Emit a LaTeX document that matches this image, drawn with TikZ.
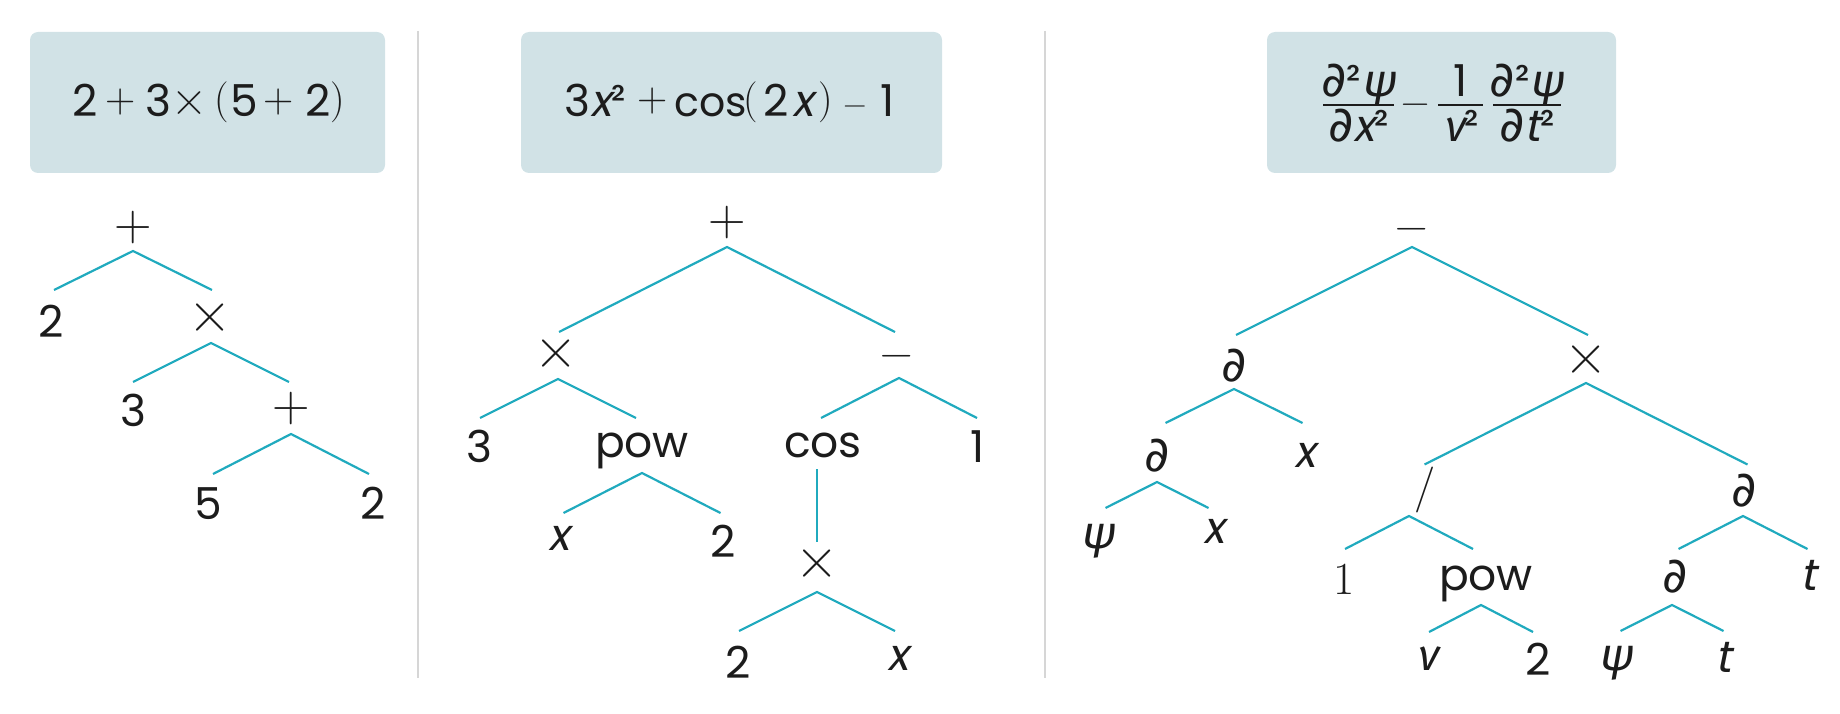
\documentclass[tikz,border=0pt]{standalone}
\usepackage{fontspec}
\setmainfont{Poppins}
\newfontfamily\popsl{Poppins}[FakeSlant=0.2]
\newfontfamily\grk{Fira Sans}[FakeSlant=0.18]
\newfontfamily\dej{DejaVu Sans}
\newfontfamily\lmr{Latin Modern Roman}
\usetikzlibrary{calc}
\definecolor{boxfill}{RGB}{209,226,230}
\definecolor{edgec}{RGB}{32,170,190}
\definecolor{ink}{RGB}{28,28,28}
\definecolor{sepc}{RGB}{214,214,214}
\newcommand\txt{\fontsize{44}{50}\selectfont}
\newcommand\opp[2]{{\lmr\fontsize{#1}{#1}\selectfont #2}}
\newcommand\vx{{\popsl x}}
\newcommand\vt{{\popsl t}}
\newcommand\psii{{\grk\fontsize{46}{50}\selectfont ψ}}
\newcommand\nuu{{\grk ν}}
\newcommand\pd{{\dej\fontsize{49}{50}\selectfont ∂}}
\newcommand\br[5]{%
  \coordinate (#1a) at (#2,#3);
  \coordinate (#1l) at ($(#1a)+(-#4,#5)$);
  \coordinate (#1r) at ($(#1a)+(#4,#5)$);
  \draw[conn] (#1l) -- (#1a) -- (#1r);}
\newcommand\fr[6]{% name, center x, num, den, left, right
  \node[lab] (#1n) at (#2,97) {#3};
  \node[lab] (#1d) at (#2,142) {#4};
  \coordinate (#1l) at (#5,105); \coordinate (#1r) at (#6,105);
  \draw[fracbar] (#1l) -- (#1r);}
\begin{document}
\begin{tikzpicture}[x=1pt,y=-1pt,
  lab/.style={inner sep=0pt, anchor=base, text=ink, font=\txt},
  op/.style={inner sep=0pt, anchor=center, text=ink, font=\txt},
  conn/.style={draw=edgec, line width=2.2pt},
  fracbar/.style={draw=ink, line width=2pt},
  divider/.style={draw=sepc, line width=2pt},
  formbox/.style={fill=boxfill, rounded corners=8pt, draw=none, inner sep=0pt}]
\useasboundingbox (0,0) rectangle (1840,714);
% formula boxes
\node[formbox, minimum width=355pt, minimum height=141pt] (box1) at (207.5,102.5) {};
\node[formbox, minimum width=421pt, minimum height=141pt] (box2) at (731.5,102.5) {};
\node[formbox, minimum width=349pt, minimum height=141pt] (box3) at (1441.5,102.5) {};
% dividers
\coordinate (d1t) at (418,31); \coordinate (d1b) at (418,678);
\coordinate (d2t) at (1045,31); \coordinate (d2b) at (1045,678);
\draw[divider] (d1t) -- (d1b);
\draw[divider] (d2t) -- (d2b);
% formula 1: 2 + 3 x (5 + 2)
\node[lab] (g1a) at (85.5,117) {2};
\node[op]  (g1b) at (120.5,101.7) {\opp{42}{+}};
\node[lab] (g1c) at (158,117) {3};
\node[op]  (g1d) at (189.5,103.5) {\opp{50}{×}};
\node[op]  (g1e) at (221.5,102.5) {\opp{41}{(}};
\node[lab] (g1f) at (244.5,117) {5};
\node[op]  (g1g) at (279,101.7) {\opp{42}{+}};
\node[lab] (g1h) at (318,117) {2};
\node[op]  (g1i) at (338,102.5) {\opp{41}{)}};
% formula 2: 3x^2 + cos(2x) - 1
\node[lab] (g2a) at (577,117) {3};
\node[lab] (g2b) at (608,117) {\vx²};
\node[op]  (g2c) at (652.5,101.5) {\opp{42}{+}};
\node[lab] (g2d) at (711,117) {\fontsize{41}{46}\selectfont cos};
\node[op]  (g2e) at (751,102.5) {\opp{41}{(}};
\node[lab] (g2f) at (776,117) {2};
\node[lab] (g2g) at (803.5,117) {\vx};
\node[op]  (g2h) at (826,102.5) {\opp{41}{)}};
\node[op]  (g2i) at (855,110.5) {\opp{32}{−}};
\node[lab] (g2j) at (887.5,117) {1};
% formula 3
\fr{fa}{1358.5}{\pd²\psii}{\pd\vx²}{1323}{1394}
\node[op] (fm) at (1415.5,109) {\opp{39}{−}};
\fr{fb}{1461}{1}{\nuu²}{1438}{1483}
\fr{fc}{1527}{\pd²\psii}{\pd\vt²}{1493}{1561}
% ---------- tree 1
\node[op]  (p1)  at (133,227.5) {\opp{52}{+}};
\node[lab] (p1a) at (51,337) {2};
\node[op]  (p1b) at (210,318) {\opp{60}{×}};
\node[lab] (p1c) at (133,426) {3};
\node[op]  (p1d) at (291,409) {\opp{52}{+}};
\node[lab] (p1e) at (208,519) {5};
\node[lab] (p1f) at (373,519) {2};
\br{b1}{133}{251}{79}{39}
\br{b2}{211}{343}{78}{39}
\br{b3}{291}{434}{78}{40}
% ---------- tree 2
\node[op]  (q)   at (727,223) {\opp{52}{+}};
\node[op]  (qa)  at (556,354) {\opp{60}{×}};
\node[op]  (qb)  at (897,361) {\opp{45}{−}};
\node[lab] (qc)  at (479,462) {3};
\node[lab] (qd)  at (642,457) {pow};
\node[lab] (qe)  at (823,457) {cos};
\node[lab] (qf)  at (978,462) {1};
\node[lab] (qg)  at (559,550) {\vx};
\node[lab] (qh)  at (723,557) {2};
\node[op]  (qi)  at (817,564) {\opp{60}{×}};
\node[lab] (qj)  at (738,678) {2};
\node[lab] (qk)  at (898,670) {\vx};
\br{c1}{727}{247}{168}{85}
\br{c2}{558}{379}{78}{39}
\br{c3}{899}{378}{78}{40}
\br{c4}{642}{473}{78.5}{40}
\br{c5}{817}{592}{78}{39}
\coordinate (cv1) at (817,469); \coordinate (cv2) at (817,542);
\draw[conn] (cv1) -- (cv2);
% ---------- tree 3
\node[op]  (r)   at (1412,234) {\opp{45}{−}};
\node[lab] (ra)  at (1234,381) {\pd};
\node[op]  (rb)  at (1586,360) {\opp{60}{×}};
\node[lab] (rc)  at (1157,471) {\pd};
\node[lab] (rd)  at (1305,467) {\vx};
\node[lab] (re)  at (1098,548) {\psii};
\node[lab] (rf)  at (1214,543) {\vx};
\node[op]  (rg)  at (1425,490) {\opp{46}{/}};
\node[lab] (rh)  at (1744,506) {\pd};
\node[lab] (ri)  at (1344,594) {\opp{46}{1}};
\node[lab] (rj)  at (1486,590) {pow};
\node[lab] (rk)  at (1675,592) {\pd};
\node[lab] (rl)  at (1808,590) {\vt};
\node[lab] (rm)  at (1427,670) {\nuu};
\node[lab] (rn)  at (1538,675) {2};
\node[lab] (ro)  at (1616,670) {\psii};
\node[lab] (rp)  at (1723,672) {\vt};
\br{e1}{1412}{247}{176}{88}
\br{e2}{1234}{389}{68.5}{34}
\br{e3}{1157}{482}{51.5}{26}
\br{e4}{1586}{383}{161.5}{81.5}
\br{e5}{1409}{516}{64}{33}
\br{e6}{1481}{605}{52}{27}
\br{e7}{1743}{516}{64.5}{33}
\br{e8}{1672}{605}{51.5}{26}
\end{tikzpicture}
\end{document}
